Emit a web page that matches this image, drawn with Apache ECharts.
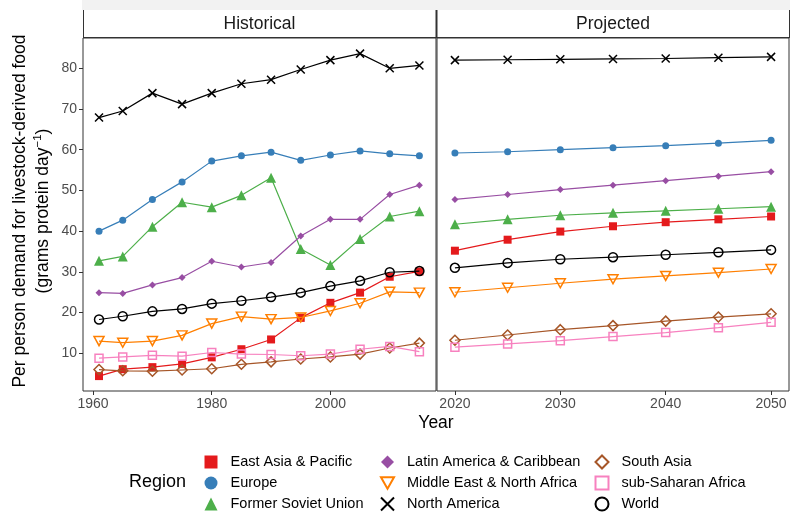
<!DOCTYPE html>
<html><head><meta charset="utf-8">
<script src="https://cdn.jsdelivr.net/npm/echarts@6/dist/echarts.min.js"></script>
<style>html,body{margin:0;padding:0;background:#fff}#c{width:800px;height:521px}</style>
</head><body><div id="c"></div>
<script>
// ---------- data ----------
const histYears = [1961,1965,1970,1975,1980,1985,1990,1995,2000,2005,2010,2015];
const projYears = [2020,2025,2030,2035,2040,2045,2050];
const regionNames = ["East Asia & Pacific","Europe","Former Soviet Union","Latin America & Caribbean","Middle East & North Africa","North America","South Asia","sub-Saharan Africa","World"];

const eastAsiaHist = [4.4,6.1,6.6,7.4,9.0,11.0,13.4,18.7,22.4,24.9,28.8,30.1];
const eastAsiaProj = [35.2,37.9,39.9,41.2,42.2,42.9,43.6];
const europeHist = [40.0,42.7,47.8,52.1,57.2,58.5,59.4,57.4,58.7,59.7,59.0,58.5];
const europeProj = [59.2,59.5,60.0,60.5,61.0,61.6,62.3];
const fsuHist = [32.7,33.8,41.1,47.1,45.9,48.8,53.1,35.6,31.7,38.1,43.6,44.9];
const fsuProj = [41.7,42.9,43.9,44.5,45.0,45.5,46.0];
const latamHist = [24.9,24.7,26.8,28.6,32.6,31.2,32.3,38.8,42.9,42.9,49.0,51.3];
const latamProj = [47.8,49.0,50.2,51.3,52.4,53.5,54.6];
const menaHist = [13.0,12.6,13.0,14.4,17.3,19.0,18.4,18.8,20.4,22.3,25.1,24.9];
const menaProj = [25.0,26.1,27.2,28.2,29.0,29.8,30.7];
const northAmHist = [67.9,69.5,73.9,71.2,73.9,76.2,77.2,79.7,82.0,83.6,80.0,80.7];
const northAmProj = [82.0,82.1,82.2,82.3,82.4,82.6,82.8];
const southAsiaHist = [6.0,5.7,5.6,5.9,6.2,7.3,7.9,8.6,9.1,9.8,11.3,12.5];
const southAsiaProj = [13.2,14.5,15.8,16.8,17.9,18.9,19.7];
const ssaHist = [8.8,9.1,9.5,9.3,10.2,9.8,9.7,9.4,9.8,11.0,11.7,10.4];
const ssaProj = [11.5,12.3,13.1,14.1,15.1,16.3,17.6];
const worldHist = [18.3,19.1,20.3,20.9,22.2,22.9,23.8,24.9,26.5,27.8,29.9,30.2];
const worldProj = [31.0,32.2,33.1,33.6,34.2,34.8,35.4];

const yTicks = [10,20,30,40,50,60,70,80];
const xTicksHist = [1960,1980,2000];
const xTicksProj = [2020,2030,2040,2050];

const histValues = [eastAsiaHist,europeHist,fsuHist,latamHist,menaHist,northAmHist,southAsiaHist,ssaHist,worldHist];
const projValues = [eastAsiaProj,europeProj,fsuProj,latamProj,menaProj,northAmProj,southAsiaProj,ssaProj,worldProj];

// ---------- styles ----------
const FONT = "'Liberation Sans', Arial, Helvetica, sans-serif";
const DOWN_TRI = 'path://M0,0L10,0L5,8.66Z';
const CROSS = 'path://M0,0L10,10M10,0L0,10';
const styles = [
  {color:'#E41A1C', symbol:'rect', size:8, hollow:false, legendIcon:'rect'},
  {color:'#377EB8', symbol:'circle', size:7, hollow:false, legendIcon:'circle'},
  {color:'#4DAF4A', symbol:'triangle', size:10, hollow:false, legendIcon:'triangle'},
  {color:'#984EA3', symbol:'diamond', size:7, hollow:false, legendIcon:'diamond'},
  {color:'#FF7F00', symbol:DOWN_TRI, size:[10,9], hollow:true, legendIcon:DOWN_TRI},
  {color:'#000000', symbol:CROSS, size:8, hollow:true, legendIcon:CROSS},
  {color:'#A65628', symbol:'diamond', size:10, hollow:true, legendIcon:'diamond'},
  {color:'#F781BF', symbol:'rect', size:8, hollow:true, legendIcon:'rect'},
  {color:'#000000', symbol:'circle', size:9, hollow:true, legendIcon:'circle'}
];

function makeSeries(i, years, vals, gi) {
  const s = styles[i];
  return {
    name: regionNames[i], type: 'line', xAxisIndex: gi, yAxisIndex: gi,
    data: years.map((y, k) => [y, vals[k]]),
    symbol: s.symbol, symbolSize: s.size, showSymbol: true,
    lineStyle: {color: s.color, width: 1.2},
    itemStyle: s.hollow ? {color: 'none', borderColor: s.color, borderWidth: 1.5}
                        : {color: s.color, borderWidth: 0},
    emphasis: {disabled: true}, animation: false, z: 2 + i
  };
}
const series = [];
for (let i = 0; i < regionNames.length; i++) {
  series.push(makeSeries(i, histYears, histValues[i], 0));
  series.push(makeSeries(i, projYears, projValues[i], 1));
}

function legendItem(i) {
  const s = styles[i];
  return {
    name: regionNames[i], icon: s.legendIcon,
    itemStyle: s.hollow ? {color: 'none', borderColor: s.color, borderWidth: 2}
                        : {color: s.color, borderColor: s.color, borderWidth: 0}
  };
}
function legendCol(idx, left) {
  return {
    orient: 'vertical', left: left, top: 451.5, itemWidth: 13, itemHeight: 13, itemGap: 0,
    selectedMode: false, padding: 0, symbolKeepAspect: true,
    textStyle: {fontFamily: FONT, fontSize: 14.5, color: '#000', lineHeight: 21, padding: [0, 0, 0, 8]},
    data: idx.map(legendItem)
  };
}

const axisLabelStyle = {fontFamily: FONT, fontSize: 14, color: '#4D4D4D'};
const tickStyle = {show: true, length: 4, lineStyle: {color: '#333', width: 1}};

const option = {
  backgroundColor: '#fff',
  animation: false,
  grid: [
    {left: 83, top: 38, width: 353, height: 353, show: true, borderColor: '#333', borderWidth: 1, backgroundColor: '#fff', containLabel: false},
    {left: 437, top: 38, width: 352, height: 353, show: true, borderColor: '#333', borderWidth: 1, backgroundColor: '#fff', containLabel: false}
  ],
  xAxis: [
    {type: 'value', gridIndex: 0, min: 1958.3, max: 2017.8,
     axisLine: {show: false}, splitLine: {show: false},
     axisTick: Object.assign({customValues: xTicksHist}, tickStyle),
     axisLabel: Object.assign({customValues: xTicksHist, margin: 6, formatter: v => String(v)}, axisLabelStyle)},
    {type: 'value', gridIndex: 1, min: 2018.3, max: 2051.7,
     axisLine: {show: false}, splitLine: {show: false},
     axisTick: Object.assign({customValues: xTicksProj}, tickStyle),
     axisLabel: Object.assign({customValues: xTicksProj, margin: 6, formatter: v => String(v)}, axisLabelStyle)}
  ],
  yAxis: [
    {type: 'value', gridIndex: 0, min: 0.74, max: 87.44,
     axisLine: {show: false}, splitLine: {show: false},
     axisTick: Object.assign({customValues: yTicks}, tickStyle),
     axisLabel: Object.assign({customValues: yTicks, margin: 6}, axisLabelStyle)},
    {type: 'value', gridIndex: 1, min: 0.74, max: 87.44,
     axisLine: {show: false}, splitLine: {show: false}, axisTick: {show: false}, axisLabel: {show: false}}
  ],
  legend: [
    legendCol([0,1,2], 204.5),
    legendCol([3,4,5], 378.5),
    legendCol([6,7,8], 593)
  ],
  graphic: [
    {type: 'rect', shape: {x: 82, y: 0, width: 708, height: 10}, style: {fill: '#F2F2F2'}, z: 0, silent: true},
    {type: 'line', shape: {x1: 83.5, y1: 10, x2: 83.5, y2: 38}, style: {stroke: '#333', lineWidth: 1}, silent: true},
    {type: 'line', shape: {x1: 436.5, y1: 10, x2: 436.5, y2: 38}, style: {stroke: '#333', lineWidth: 2}, silent: true},
    {type: 'line', shape: {x1: 789.5, y1: 10, x2: 789.5, y2: 38}, style: {stroke: '#333', lineWidth: 1}, silent: true},
    {type: 'line', shape: {x1: 83, y1: 37.5, x2: 790, y2: 37.5}, style: {stroke: '#333', lineWidth: 1}, silent: true},
    {type: 'text', x: 259.5, y: 24, silent: true,
     style: {text: 'Historical', fontFamily: FONT, fontSize: 17.5, fill: '#1A1A1A', align: 'center', verticalAlign: 'middle'}},
    {type: 'text', x: 613, y: 24, silent: true,
     style: {text: 'Projected', fontFamily: FONT, fontSize: 17.5, fill: '#1A1A1A', align: 'center', verticalAlign: 'middle'}},
    {type: 'text', x: 436, y: 423, silent: true,
     style: {text: 'Year', fontFamily: FONT, fontSize: 17.5, fill: '#000', align: 'center', verticalAlign: 'middle'}},
    {type: 'text', x: 32, y: 211, rotation: Math.PI / 2, silent: true,
     style: {text: 'Per person demand for livestock-derived food\n(grams protein day{sup|\u22121})',
             fontFamily: FONT, fontSize: 17.5, fill: '#000', align: 'center', verticalAlign: 'middle', lineHeight: 23,
             rich: {sup: {fontFamily: FONT, fontSize: 11.5, fill: '#000', verticalAlign: 'top', lineHeight: 23}}}},
    {type: 'text', x: 129, y: 482, silent: true,
     style: {text: 'Region', fontFamily: FONT, fontSize: 18, fill: '#000', align: 'left', verticalAlign: 'middle'}}
  ],
  series: series
};

const chart = echarts.init(document.getElementById('c'), null, {renderer: 'canvas'});
chart.setOption(option);
</script>
</body></html>
